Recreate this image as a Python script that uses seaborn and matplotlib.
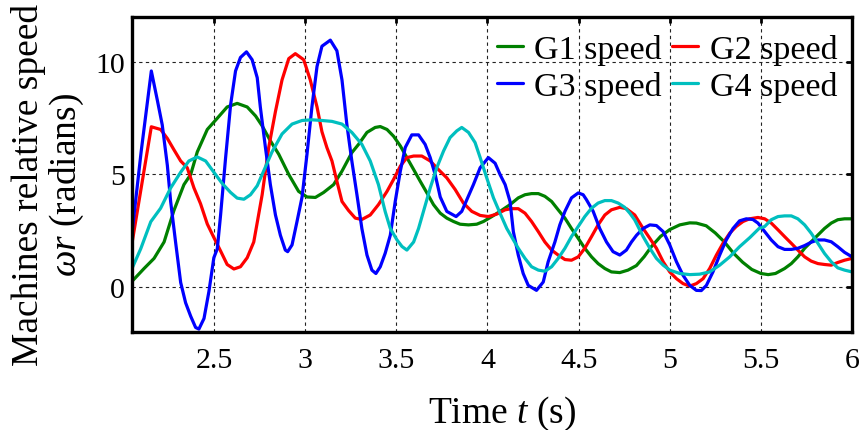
import matplotlib
matplotlib.use("Agg")
import matplotlib.pyplot as plt
import numpy as np
import pandas as pd
import seaborn as sns

# ---- machine relative speed traces (time in s, speed in rad) ----
t_g1 = [2.05, 2.116, 2.171, 2.226, 2.280, 2.335, 2.372, 2.408, 2.463, 2.518, 2.572, 2.627, 2.682,
        2.728, 2.764, 2.809, 2.855, 2.910, 2.964, 3.010, 3.056, 3.101, 3.156, 3.202, 3.256, 3.293,
        3.339, 3.384, 3.412, 3.449, 3.485, 3.522, 3.558, 3.595, 3.631, 3.668, 3.704, 3.741, 3.777,
        3.814, 3.850, 3.896, 3.941, 3.978, 4.024, 4.069, 4.124, 4.169, 4.206, 4.242, 4.279, 4.315,
        4.352, 4.388, 4.425, 4.461, 4.498, 4.534, 4.571, 4.607, 4.644, 4.680, 4.726, 4.771, 4.817,
        4.86, 4.90, 4.95, 5.00, 5.055, 5.11, 5.146, 5.20, 5.25, 5.30, 5.35, 5.40, 5.45, 5.50, 5.54,
        5.58, 5.630, 5.667, 5.703, 5.740, 5.776, 5.813, 5.849, 5.886, 5.922, 5.959, 6.0]
g1 = [0.25, 0.82, 1.27, 2.0, 3.4, 4.55, 5.0, 6.0, 7.0, 7.5, 8.0, 8.16, 8.0,
      7.6, 7.16, 6.5, 5.9, 5.0, 4.25, 4.0, 3.98, 4.2, 4.55, 5.15, 5.97, 6.34,
      6.87, 7.09, 7.13, 7.0, 6.7, 6.27, 5.75, 5.22, 4.7, 4.18, 3.66, 3.28, 3.06,
      2.91, 2.79, 2.76, 2.79, 2.91, 3.13, 3.36, 3.66, 3.96, 4.1, 4.15, 4.15, 4.03,
      3.8, 3.43, 3.06, 2.6, 2.16, 1.72, 1.34, 1.04, 0.82, 0.67, 0.64, 0.75, 0.95,
      1.35, 1.8, 2.25, 2.55, 2.76, 2.85, 2.84, 2.72, 2.4, 2.0, 1.5, 1.1, 0.78, 0.6, 0.55,
      0.6, 0.82, 1.04, 1.34, 1.72, 2.01, 2.31, 2.6, 2.84, 2.99, 3.03, 3.03]

t_g2 = [2.05, 2.156, 2.207, 2.244, 2.280, 2.317, 2.353, 2.390, 2.426, 2.463, 2.499, 2.536, 2.572,
        2.609, 2.645, 2.682, 2.718, 2.740, 2.764, 2.800, 2.837, 2.873, 2.910, 2.946, 2.992, 3.028,
        3.065, 3.092, 3.119, 3.147, 3.174, 3.202, 3.238, 3.275, 3.311, 3.357, 3.402, 3.449, 3.485,
        3.522, 3.558, 3.595, 3.640, 3.686, 3.731, 3.777, 3.823, 3.868, 3.914, 3.960, 4.005, 4.051,
        4.097, 4.133, 4.169, 4.206, 4.242, 4.279, 4.315, 4.352, 4.388, 4.425, 4.461, 4.498, 4.534,
        4.571, 4.607, 4.644, 4.680, 4.726, 4.762, 4.808, 4.854, 4.891, 4.927, 4.964, 5.000, 5.037,
        5.073, 5.110, 5.146, 5.183, 5.219, 5.256, 5.292, 5.329, 5.365, 5.402, 5.438, 5.484, 5.521,
        5.557, 5.594, 5.630, 5.667, 5.703, 5.740, 5.776, 5.813, 5.849, 5.886, 5.922, 5.959, 6.0]
g2 = [1.94, 7.12, 7.0, 6.6, 6.1, 5.6, 5.3, 4.4, 3.7, 2.8, 2.2, 1.6, 1.0,
      0.8, 0.9, 1.3, 2.0, 3.0, 4.1, 6.2, 7.8, 9.2, 10.15, 10.37, 10.1, 9.2,
      8.0, 6.9, 6.2, 5.6, 4.7, 3.8, 3.4, 3.06, 3.0, 3.2, 3.66, 4.25, 4.78,
      5.37, 5.75, 5.82, 5.82, 5.6, 5.22, 4.85, 4.33, 3.73, 3.36, 3.18, 3.13, 3.24,
      3.43, 3.48, 3.48, 3.28, 2.91, 2.46, 2.0, 1.64, 1.42, 1.22, 1.19, 1.34, 1.72,
      2.24, 2.76, 3.2, 3.43, 3.54, 3.48, 3.2, 2.6, 2.16, 1.72, 1.12, 0.67, 0.37,
      0.15, 0.04, 0.15, 0.37, 0.82, 1.42, 1.94, 2.39, 2.69, 2.91, 3.03, 3.09, 3.03,
      2.84, 2.54, 2.24, 1.94, 1.64, 1.34, 1.15, 1.04, 1.0, 0.97, 1.09, 1.19, 1.27]

t_g3 = [2.05, 2.10, 2.156, 2.189, 2.216, 2.244, 2.262, 2.289, 2.317, 2.344, 2.372, 2.399, 2.417,
        2.445, 2.472, 2.499, 2.518, 2.536, 2.563, 2.591, 2.618, 2.645, 2.678, 2.709, 2.737, 2.754,
        2.782, 2.809, 2.837, 2.864, 2.891, 2.904, 2.928, 2.955, 2.983, 3.010, 3.037, 3.065, 3.092,
        3.138, 3.174, 3.202, 3.229, 3.256, 3.284, 3.311, 3.339, 3.366, 3.388, 3.412, 3.439, 3.467,
        3.494, 3.522, 3.549, 3.585, 3.622, 3.658, 3.686, 3.713, 3.741, 3.777, 3.828, 3.859, 3.887,
        3.923, 3.960, 4.005, 4.042, 4.069, 4.097, 4.124, 4.142, 4.169, 4.196, 4.224, 4.269, 4.306,
        4.333, 4.370, 4.397, 4.425, 4.461, 4.498, 4.525, 4.543, 4.580, 4.616, 4.653, 4.689, 4.726,
        4.762, 4.790, 4.818, 4.854, 4.891, 4.927, 4.964, 5.000, 5.037, 5.073, 5.110, 5.146, 5.173,
        5.201, 5.237, 5.274, 5.310, 5.347, 5.383, 5.420, 5.456, 5.484, 5.521, 5.557, 5.594, 5.630,
        5.667, 5.703, 5.740, 5.776, 5.813, 5.849, 5.886, 5.922, 5.959, 6.0]
g3 = [2.4, 6.0, 9.6, 8.3, 7.2, 5.4, 3.8, 2.0, 0.2, -0.7, -1.3, -1.8, -1.87,
      -1.4, -0.2, 1.3, 1.7, 3.2, 5.7, 8.1, 9.6, 10.2, 10.45, 10.1, 9.3, 8.0,
      6.2, 4.55, 3.2, 2.3, 1.64, 1.57, 1.87, 2.9, 4.0, 5.9, 8.0, 9.8, 10.7,
      10.97, 10.5, 9.2, 7.2, 5.6, 4.1, 2.6, 1.42, 0.75, 0.6, 0.9, 1.5, 2.3,
      3.8, 5.15, 6.2, 6.76, 6.76, 6.34, 5.75, 5.0, 4.0, 3.36, 3.13, 3.36, 3.88,
      4.55, 5.3, 5.75, 5.5, 5.0, 4.55, 3.8, 2.46, 1.42, 0.6, 0.07, -0.15, 0.22,
      1.12, 2.0, 2.76, 3.36, 3.96, 4.18, 4.1, 3.88, 3.36, 2.6, 2.0, 1.57, 1.42,
      1.64, 2.0, 2.3, 2.6, 2.76, 2.73, 2.46, 1.87, 1.12, 0.52, 0.07, -0.15, -0.16,
      0.07, 0.67, 1.42, 2.09, 2.6, 2.94, 3.03, 3.0, 2.84, 2.46, 2.09, 1.79, 1.67,
      1.67, 1.72, 1.84, 1.99, 2.09, 2.09, 2.01, 1.79, 1.54, 1.34]

t_g4 = [2.05, 2.098, 2.153, 2.207, 2.262, 2.317, 2.362, 2.408, 2.454, 2.499, 2.545, 2.591, 2.627,
        2.664, 2.700, 2.737, 2.764, 2.818, 2.873, 2.928, 2.983, 3.037, 3.092, 3.147, 3.202, 3.256,
        3.311, 3.357, 3.402, 3.439, 3.467, 3.503, 3.531, 3.558, 3.595, 3.622, 3.649, 3.686, 3.722,
        3.759, 3.795, 3.832, 3.859, 3.896, 3.932, 3.960, 3.996, 4.033, 4.069, 4.106, 4.169, 4.206,
        4.242, 4.279, 4.315, 4.352, 4.388, 4.425, 4.461, 4.498, 4.534, 4.571, 4.607, 4.644, 4.680,
        4.717, 4.753, 4.781, 4.808, 4.854, 4.891, 4.927, 4.964, 5.000, 5.055, 5.110, 5.164, 5.219,
        5.274, 5.329, 5.383, 5.44, 5.49, 5.521, 5.557, 5.594, 5.630, 5.667, 5.703, 5.740, 5.776,
        5.813, 5.849, 5.886, 5.922, 5.959, 6.0]
g4 = [0.82, 1.7, 2.9, 3.5, 4.4, 5.1, 5.6, 5.78, 5.6, 5.1, 4.6, 4.2, 3.95,
      3.9, 4.1, 4.5, 5.0, 6.0, 6.8, 7.24, 7.4, 7.43, 7.4, 7.36, 7.24, 6.87,
      6.34, 5.6, 4.55, 3.35, 2.6, 2.1, 1.8, 1.64, 2.0, 2.6, 3.36, 4.4, 5.3,
      6.04, 6.64, 6.94, 7.09, 6.87, 6.42, 5.75, 4.85, 3.96, 3.28, 2.6, 1.72, 1.27,
      0.9, 0.75, 0.7, 0.9, 1.27, 1.72, 2.24, 2.69, 3.13, 3.5, 3.73, 3.84, 3.84,
      3.73, 3.54, 3.28, 2.98, 2.24, 1.72, 1.27, 0.97, 0.75, 0.6, 0.55, 0.57, 0.67,
      0.97, 1.34, 1.79, 2.2, 2.6, 2.69, 2.99, 3.13, 3.16, 3.16, 3.03, 2.76, 2.39,
      1.94, 1.49, 1.12, 0.85, 0.75, 0.67]

labels = ["G1 speed", "G2 speed", "G3 speed", "G4 speed"]
colors = ["#008000", "#ff0000", "#0000ff", "#00bfbf"]
x_ticks = [2.5, 3, 3.5, 4, 4.5, 5, 5.5, 6]
y_ticks = [0, 5, 10]

frames = []
for lab, tt, vv in zip(labels, [t_g1, t_g2, t_g3, t_g4], [g1, g2, g3, g4]):
    frames.append(pd.DataFrame({"t": tt, "speed": vv, "machine": lab}))
df = pd.concat(frames, ignore_index=True)

sns.set_theme(style="white")
plt.rcParams["font.family"] = ["Liberation Serif", "DejaVu Serif"]
plt.rcParams["mathtext.fontset"] = "custom"
plt.rcParams["mathtext.rm"] = "Liberation Serif"
plt.rcParams["mathtext.it"] = "Liberation Serif:italic"
plt.rcParams["text.color"] = "black"
plt.rcParams["axes.labelcolor"] = "black"

fig = plt.figure(figsize=(8.65, 4.31), dpi=100)
ax = fig.add_axes([0.1526, 0.2274, 0.8324, 0.7309])

sns.lineplot(data=df, x="t", y="speed", hue="machine", hue_order=labels,
             palette=colors, estimator=None, sort=False, linewidth=2.3, ax=ax)

ax.set_xlim(2.05, 6.0)
ax.set_ylim(-2, 12)
ax.set_xticks(x_ticks)
ax.set_xticklabels([f"{v:g}" for v in x_ticks])
ax.set_yticks(y_ticks)
ax.grid(True, color="#222222", linestyle=(0, (3, 3)), linewidth=0.8)
ax.set_axisbelow(True)

for s in ax.spines.values():
    s.set_visible(True)
    s.set_linewidth(2.4)
    s.set_color("black")

ax.tick_params(axis="both", which="major", direction="in", length=4, width=2,
               top=True, right=True, labelsize=21.5, colors="black")
ax.tick_params(axis="x", pad=11)
ax.tick_params(axis="y", pad=5)

ax.set_xlabel("Time $t$ (s)", fontsize=27, color="black")
ax.set_ylabel("Machines relative speed\n$\\omega r$ (radians)", fontsize=27,
              linespacing=1.05, color="black")
ax.xaxis.set_label_coords(0.514, -0.195)
ax.yaxis.set_label_coords(-0.064, 0.47)

# legend: two rows, G1/G2 on top and G3/G4 below
handles, hlabels = ax.get_legend_handles_labels()
hmap = dict(zip(hlabels, handles))
order = ["G1 speed", "G3 speed", "G2 speed", "G4 speed"]
leg = ax.legend([hmap[k] for k in order], order, ncol=2, loc="upper right",
                bbox_to_anchor=(1.008, 1.012), frameon=False, fontsize=24.5,
                handlelength=0.75, handletextpad=0.35, columnspacing=0.3,
                labelspacing=0.18, borderaxespad=0.2)
for line in leg.get_lines():
    line.set_linewidth(2.3)
for txt in leg.get_texts():
    txt.set_color("black")

fig.savefig("out.png", dpi=100)
